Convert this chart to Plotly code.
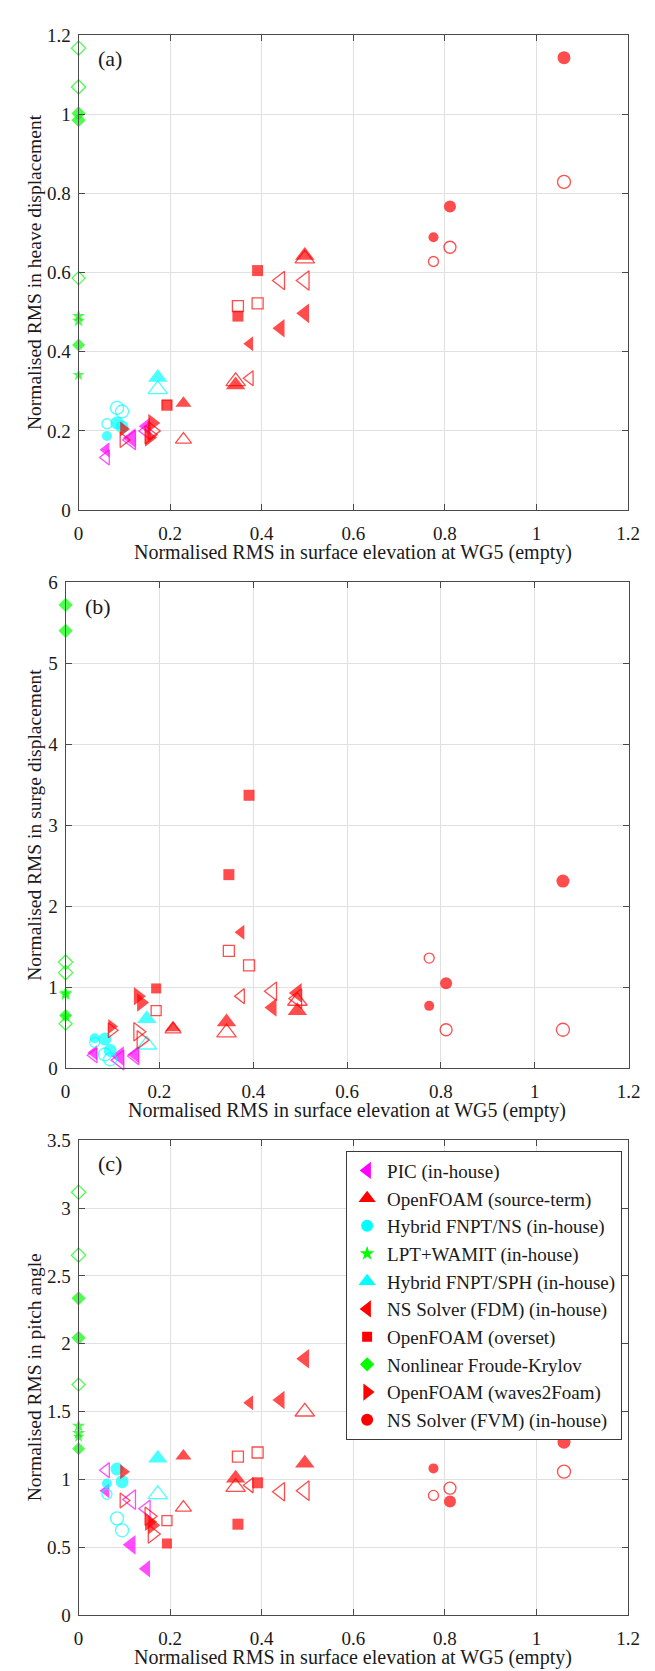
import plotly.graph_objects as go

# ---------------- data ----------------
X_TITLE = "Normalised RMS in surface elevation at WG5 (empty)"
Y_TITLES = ["Normalised RMS in heave displacement",
            "Normalised RMS in surge displacement",
            "Normalised RMS in pitch angle"]
PANEL_TAGS = ["(a)", "(b)", "(c)"]
X_TICKS = [0, 0.2, 0.4, 0.6, 0.8, 1, 1.2]
Y_TICKS_A = [0, 0.2, 0.4, 0.6, 0.8, 1, 1.2]
Y_TICKS_B = [0, 1, 2, 3, 4, 5, 6]
Y_TICKS_C = [0, 0.5, 1, 1.5, 2, 2.5, 3, 3.5]

# PIC (in-house)
pic_x = [0.060, 0.115, 0.148]
pic_heave = [0.152, 0.182, 0.212]
pic_heave_open = [0.133, 0.177, 0.200]
pic_surge = [0.19, 0.15, 0.17]
pic_surge_open = [0.16, 0.10, 0.15]
pic_pitch = [0.919, 0.520, 0.344]
pic_pitch_open = [1.070, 0.853, 0.786]

# OpenFOAM (source-term)
ofst_x = [0.229, 0.343, 0.494]
ofst_heave = [0.270, 0.316, 0.643]
ofst_heave_open = [0.178, 0.325, 0.635]
ofst_surge = [0.50, 0.57, 0.71]
ofst_surge_open = [0.48, 0.44, 0.83]
ofst_pitch = [1.175, 1.011, 1.120]
ofst_pitch_open = [0.794, 0.945, 1.500]

# Hybrid FNPT/NS (in-house)
fnptns_x = [0.062, 0.084, 0.095]
fnptns_heave = [0.187, 0.220, 0.210]
fnptns_heave_open = [0.218, 0.258, 0.249]
fnptns_surge = [0.37, 0.36, 0.22]
fnptns_surge_open = [0.32, 0.17, 0.11]
fnptns_pitch = [0.972, 1.078, 0.985]
fnptns_pitch_open = [0.892, 0.715, 0.627]

# LPT+WAMIT (in-house)
lpt_x = [0, 0, 0]
lpt_heave = [0.490, 0.478, 0.341]
lpt_surge = [0.93, 0.91, 0.64]
lpt_pitch = [1.395, 1.342, 1.316]

# Hybrid FNPT/SPH (in-house)
fnptsph_x = [0.173]
fnptsph_heave = [0.335]
fnptsph_heave_open = [0.305]
fnptsph_surge = [0.61]
fnptsph_surge_open = [0.29]
fnptsph_pitch = [1.157]
fnptsph_pitch_open = [0.892]

# NS Solver (FDM) (in-house)
fdm_x = [0.374, 0.441, 0.494]
fdm_heave = [0.420, 0.459, 0.497]
fdm_heave_open = [0.333, 0.580, 0.580]
fdm_surge = [1.68, 0.75, 0.93]
fdm_surge_open = [0.89, 0.95, 0.86]
fdm_pitch = [1.567, 1.586, 1.890]
fdm_pitch_open = [0.958, 0.911, 0.919]

# OpenFOAM (overset)
ovs_x = [0.193, 0.348, 0.391]
ovs_heave = [0.266, 0.490, 0.605]
ovs_heave_open = [0.265, 0.515, 0.522]
ovs_surge = [0.985, 2.39, 3.37]
ovs_surge_open = [0.71, 1.45, 1.27]
ovs_pitch = [0.530, 0.672, 0.977]
ovs_pitch_open = [0.699, 1.170, 1.200]

# Nonlinear Froude-Krylov
nfk_x = [0, 0, 0]
nfk_heave = [1.002, 0.985, 0.417]
nfk_heave_open = [1.167, 1.069, 0.586]
nfk_surge = [5.72, 5.40, 0.65]
nfk_surge_open = [1.31, 1.18, 0.55]
nfk_pitch = [2.335, 2.044, 1.228]
nfk_pitch_open = [3.116, 2.653, 1.700]

# OpenFOAM (waves2Foam)
w2f_x = [0.098, 0.154, 0.161]
w2f_heave = [0.205, 0.183, 0.220]
w2f_heave_open = [0.177, 0.190, 0.200]
w2f_surge = [0.515, 0.89, 0.81]
w2f_surge_open = [0.47, 0.45, 0.35]
w2f_pitch = [1.059, 0.690, 0.665]
w2f_pitch_open = [0.847, 0.730, 0.600]

# NS Solver (FVM) (in-house)
fvm_x = [0.775, 0.811, 1.060]
fvm_heave = [0.689, 0.767, 1.143]
fvm_heave_open = [0.628, 0.664, 0.829]
fvm_surge = [0.77, 1.05, 2.31]
fvm_surge_open = [1.36, 0.475, 0.475]
fvm_pitch = [1.083, 0.839, 1.276]
fvm_pitch_open = [0.884, 0.937, 1.059]

# ---------------- series definitions (legend order) ----------------
SERIES = [
    ("PIC (in-house)", "#ff00ff", "triangle-left", pic_x,
     [pic_heave, pic_surge, pic_pitch], [pic_heave_open, pic_surge_open, pic_pitch_open]),
    ("OpenFOAM (source-term)", "#ff0000", "triangle-up", ofst_x,
     [ofst_heave, ofst_surge, ofst_pitch], [ofst_heave_open, ofst_surge_open, ofst_pitch_open]),
    ("Hybrid FNPT/NS (in-house)", "#00ffff", "circle", fnptns_x,
     [fnptns_heave, fnptns_surge, fnptns_pitch], [fnptns_heave_open, fnptns_surge_open, fnptns_pitch_open]),
    ("LPT+WAMIT (in-house)", "#00ff00", "star", lpt_x,
     [lpt_heave, lpt_surge, lpt_pitch], None),
    ("Hybrid FNPT/SPH (in-house)", "#00ffff", "triangle-up", fnptsph_x,
     [fnptsph_heave, fnptsph_surge, fnptsph_pitch], [fnptsph_heave_open, fnptsph_surge_open, fnptsph_pitch_open]),
    ("NS Solver (FDM) (in-house)", "#ff0000", "triangle-left", fdm_x,
     [fdm_heave, fdm_surge, fdm_pitch], [fdm_heave_open, fdm_surge_open, fdm_pitch_open]),
    ("OpenFOAM (overset)", "#ff0000", "square", ovs_x,
     [ovs_heave, ovs_surge, ovs_pitch], [ovs_heave_open, ovs_surge_open, ovs_pitch_open]),
    ("Nonlinear Froude-Krylov", "#00ff00", "diamond", nfk_x,
     [nfk_heave, nfk_surge, nfk_pitch], [nfk_heave_open, nfk_surge_open, nfk_pitch_open]),
    ("OpenFOAM (waves2Foam)", "#ff0000", "triangle-right", w2f_x,
     [w2f_heave, w2f_surge, w2f_pitch], [w2f_heave_open, w2f_surge_open, w2f_pitch_open]),
    ("NS Solver (FVM) (in-house)", "#ff0000", "circle", fvm_x,
     [fvm_heave, fvm_surge, fvm_pitch], [fvm_heave_open, fvm_surge_open, fvm_pitch_open]),
]

# marker sizes (style) per series, one per case
SIZES = {
    "PIC (in-house)": [13, 17, 15],
    "OpenFOAM (source-term)": [14, 17, 17],
    "Hybrid FNPT/NS (in-house)": [10, 13, 13],
    "LPT+WAMIT (in-house)": [10, 10, 9],
    "Hybrid FNPT/SPH (in-house)": [17],
    "NS Solver (FDM) (in-house)": [13, 16, 17],
    "OpenFOAM (overset)": [10, 11, 11],
    "Nonlinear Froude-Krylov": [11, 11, 10],
    "OpenFOAM (waves2Foam)": [13, 16, 16],
    "NS Solver (FVM) (in-house)": [10, 12, 13],
}
LEGEND_SIZES = {
    "triangle-left": 15, "triangle-up": 15, "triangle-right": 15,
    "circle": 12, "square": 10, "diamond": 11, "star": 11,
}

FONT = "Liberation Serif, Times New Roman, serif"
AX_COLOR = "#4a4a4a"
GRID = "#e0e0e0"
TXT = "#1a1a1a"

# panel geometry (paper fractions)
W, H = 655, 1671
XDOM = [[67.3 / W, 631.5 / W], [54.0 / W, 632.0 / W], [67.3 / W, 631.5 / W]]
YDOM = [[(H - 498.3) / H, (H - 17.3) / H],
        [(H - 1063.6) / H, (H - 571.4) / H],
        [(H - 1617.8) / H, (H - 1136.4) / H]]
YRANGES = [[0, 1.2], [0, 6], [0, 3.5]]
YTICKS = [Y_TICKS_A, Y_TICKS_B, Y_TICKS_C]
YTITLE_SHIFT = [-44, -31, -44]

fig = go.Figure()

for p in range(3):
    xa = "x" if p == 0 else f"x{p+1}"
    ya = "y" if p == 0 else f"y{p+1}"
    for name, color, sym, xs, fills, opens in SERIES:
        sz = SIZES[name]
        fig.add_trace(go.Scatter(
            x=xs, y=fills[p], mode="markers", name=name,
            xaxis=xa, yaxis=ya, showlegend=False, legendgroup=name,
            cliponaxis=False,
            marker=dict(symbol=sym, color=color, size=sz, line=dict(width=0)),
            hoverinfo="skip"))
        if opens is not None:
            fig.add_trace(go.Scatter(
                x=xs, y=opens[p], mode="markers", name=name + " (open)",
                xaxis=xa, yaxis=ya, showlegend=False, legendgroup=name,
                cliponaxis=False,
                marker=dict(symbol=sym + "-open", color=color, size=sz,
                            line=dict(width=1.3, color=color)),
                hoverinfo="skip"))

# legend entries (filled symbol of each series, no data drawn)
for name, color, sym, xs, fills, opens in SERIES:
    fig.add_trace(go.Scatter(
        x=[None], y=[None], mode="markers", name=name,
        xaxis="x3", yaxis="y3", showlegend=True, legendgroup=name,
        marker=dict(symbol=sym, color=color, size=LEGEND_SIZES[sym], line=dict(width=0)),
        hoverinfo="skip"))

axis_common = dict(
    showgrid=True, gridcolor=GRID, gridwidth=1, zeroline=False,
    showline=True, linecolor=AX_COLOR, linewidth=1, mirror="ticks",
    ticks="inside", ticklen=6, tickcolor=AX_COLOR, tickwidth=1,
    tickfont=dict(family=FONT, size=19, color=TXT),
)

layout = dict(
    width=W, height=H, margin=dict(l=0, r=0, t=0, b=0),
    paper_bgcolor="white", plot_bgcolor="white",
    font=dict(family=FONT, color=TXT),
    showlegend=True,
    legend=dict(
        x=342 / W, y=(H - 1147) / H, xanchor="left", yanchor="top",
        bgcolor="white", bordercolor="#3a3a3a", borderwidth=1,
        font=dict(family=FONT, size=19, color=TXT),
        tracegroupgap=0,
    ),
)
annotations = []
for p in range(3):
    sx = "" if p == 0 else str(p + 1)
    layout["xaxis" + sx] = dict(
        axis_common, domain=XDOM[p], range=[0, 1.2], tickvals=X_TICKS,
        anchor="y" + sx, ticklabelstandoff=6)
    layout["yaxis" + sx] = dict(
        axis_common, domain=YDOM[p], range=YRANGES[p], tickvals=YTICKS[p],
        anchor="x" + sx, ticklabelstandoff=3)
    annotations.append(dict(
        text=X_TITLE, xref=f"x{sx} domain", yref=f"y{sx} domain",
        x=0.5, y=0, yshift=-42, xanchor="center", yanchor="middle",
        showarrow=False, font=dict(family=FONT, size=20, color=TXT)))
    annotations.append(dict(
        text=Y_TITLES[p], xref=f"x{sx} domain", yref=f"y{sx} domain",
        x=0, y=0.5, xshift=YTITLE_SHIFT[p], textangle=-90,
        xanchor="center", yanchor="middle",
        showarrow=False, font=dict(family=FONT, size=19.5, color=TXT)))
    annotations.append(dict(
        text=PANEL_TAGS[p], xref=f"x{sx} domain", yref=f"y{sx} domain",
        x=0.058, y=0.95, xanchor="center", yanchor="middle",
        showarrow=False, font=dict(family=FONT, size=22, color=TXT)))
layout["annotations"] = annotations

fig.update_layout(**layout)
fig.write_html("out.html")
